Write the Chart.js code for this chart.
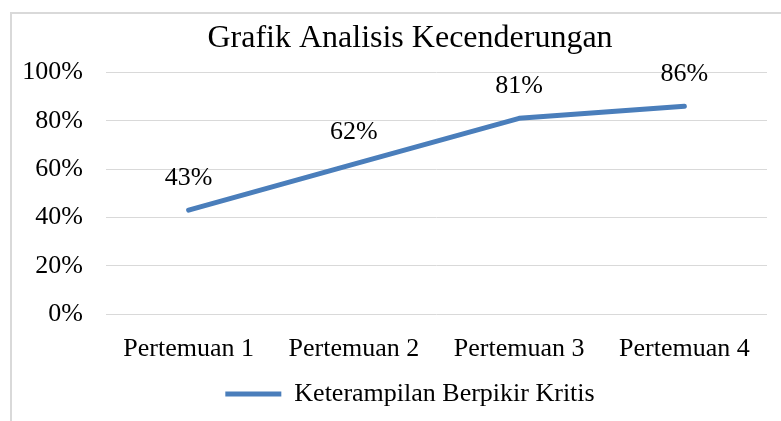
<!DOCTYPE html>
<html>
<head>
<meta charset="utf-8">
<script src="https://cdn.jsdelivr.net/npm/chart.js@4/dist/chart.umd.min.js"></script>
<style>
  html, body { margin: 0; padding: 0; background: #ffffff; }
  #wrap { position: relative; width: 781px; height: 421px; overflow: hidden; }
  #frame { position: absolute; left: 10px; top: 12px; width: 800px; height: 450px;
           border-left: 2px solid #d9d9d9; border-top: 2px solid #d9d9d9; pointer-events: none; }
  canvas { position: absolute; left: 0; top: 0; }
</style>
</head>
<body>
<div id="wrap">
  <canvas id="c" width="820" height="421"></canvas>
  <div id="frame"></div>
</div>
<script>
const categories = ["Pertemuan 1", "Pertemuan 2", "Pertemuan 3", "Pertemuan 4"];
const seriesName = "Keterampilan Berpikir Kritis";
const seriesValues = [43, 62, 81, 86];
const yTicks = [0, 20, 40, 60, 80, 100];
const chartTitle = "Grafik Analisis Kecenderungan";

const FONT = "'Liberation Serif', 'Times New Roman', serif";

const dataLabels = {
  id: 'dataLabels',
  afterDatasetsDraw(chart) {
    const ctx = chart.ctx;
    const meta = chart.getDatasetMeta(0);
    ctx.save();
    ctx.font = "26px " + FONT;
    ctx.fillStyle = "#000000";
    ctx.textAlign = "center";
    ctx.textBaseline = "middle";
    meta.data.forEach((pt, i) => {
      ctx.fillText(seriesValues[i] + "%", pt.x, pt.y - 32);
    });
    ctx.restore();
  }
};

new Chart(document.getElementById('c'), {
  type: 'line',
  data: {
    labels: categories,
    datasets: [{
      label: seriesName,
      data: seriesValues,
      borderColor: '#4A7EBB',
      backgroundColor: '#4A7EBB',
      borderWidth: 5,
      borderCapStyle: 'round',
      borderJoinStyle: 'round',
      pointRadius: 0,
      pointHoverRadius: 0,
      tension: 0,
      fill: false,
      yAxisID: 'y'
    }]
  },
  options: {
    responsive: false,
    animation: false,
    devicePixelRatio: 1,
    layout: { padding: { left: 0, right: 0, top: 0, bottom: 4 } },
    plugins: {
      title: {
        display: true,
        text: chartTitle,
        color: '#000000',
        font: { family: FONT, size: 32, weight: 'normal' },
        padding: { top: 19, bottom: 15 }
      },
      legend: {
        display: true,
        position: 'bottom',
        labels: {
          color: '#000000',
          font: { family: FONT, size: 26 },
          usePointStyle: true,
          pointStyle: 'line',
          pointStyleWidth: 56,
          padding: 17
        }
      },
      tooltip: { enabled: false }
    },
    scales: {
      x: {
        offset: true,
        afterFit(scale) { scale.height = 50; },
        grid: { display: false, drawTicks: false },
        border: { display: false },
        ticks: { color: '#000000', font: { family: FONT, size: 26 }, padding: 20, maxRotation: 0 }
      },
      y: {
        position: 'left',
        min: 0,
        max: 100,
        afterFit(scale) { scale.width = 106; },
        afterBuildTicks(scale) { scale.ticks = yTicks.map(v => ({ value: v })); },
        grid: { color: '#d9d9d9', lineWidth: 1, drawTicks: false },
        border: { display: false },
        ticks: {
          color: '#000000',
          font: { family: FONT, size: 26 },
          padding: 23,
          callback: (v) => v + '%'
        }
      },
      yRight: {
        position: 'right',
        min: 0,
        max: 100,
        afterFit(scale) { scale.width = 53; },
        grid: { display: false, drawTicks: false },
        border: { display: false },
        ticks: { display: false }
      }
    }
  },
  plugins: [dataLabels]
});
</script>
</body>
</html>
